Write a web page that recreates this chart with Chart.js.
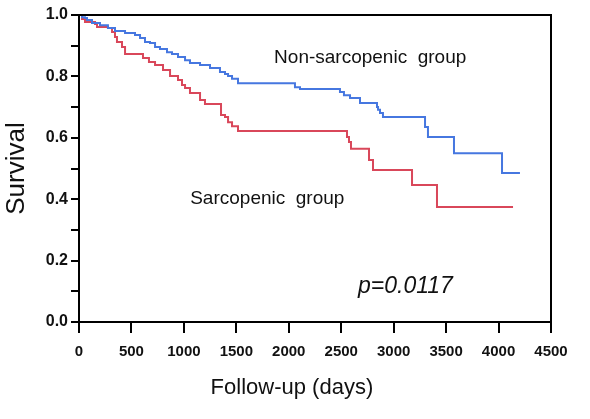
<!DOCTYPE html>
<html>
<head>
<meta charset="utf-8">
<script src="https://cdn.jsdelivr.net/npm/chart.js@4"></script>
<style>
  html, body { margin: 0; padding: 0; background: #fff; }
  #wrap { width: 590px; height: 419px; }
</style>
</head>
<body>
<div id="wrap"><canvas id="kmChart" width="590" height="419"></canvas></div>
<script>
// Kaplan-Meier steps (days, survival)
const nonSarcDays = [0, 29, 57, 76, 124, 200, 276, 343, 439, 534, 582, 629, 677, 725, 772, 839, 887, 944, 1011, 1058, 1154, 1249, 1344, 1392, 1421, 1459, 1516, 2059, 2107, 2488, 2526, 2584, 2679, 2841, 2851, 2870, 2898, 3299, 3327, 3575, 4033, 4204];
const nonSarcSurv = [1.0, 0.993, 0.990, 0.984, 0.974, 0.967, 0.958, 0.948, 0.941, 0.935, 0.925, 0.912, 0.909, 0.896, 0.889, 0.879, 0.873, 0.863, 0.853, 0.844, 0.837, 0.827, 0.814, 0.808, 0.801, 0.792, 0.778, 0.765, 0.759, 0.749, 0.739, 0.730, 0.713, 0.700, 0.691, 0.681, 0.668, 0.635, 0.603, 0.550, 0.485, 0.485];

const sarcDays = [0, 29, 57, 153, 172, 276, 315, 343, 362, 410, 439, 610, 667, 725, 801, 868, 944, 982, 1011, 1058, 1154, 1201, 1354, 1392, 1421, 1459, 1516, 2555, 2574, 2593, 2765, 2803, 3175, 3413, 4138];
const sarcSurv = [1.0, 0.987, 0.977, 0.971, 0.961, 0.958, 0.945, 0.928, 0.912, 0.896, 0.873, 0.860, 0.847, 0.837, 0.821, 0.801, 0.788, 0.772, 0.762, 0.746, 0.723, 0.710, 0.674, 0.668, 0.651, 0.638, 0.622, 0.603, 0.586, 0.564, 0.528, 0.495, 0.446, 0.375, 0.375];

const xTicks = [0, 500, 1000, 1500, 2000, 2500, 3000, 3500, 4000, 4500];
const yTicks = [0.0, 0.2, 0.4, 0.6, 0.8, 1.0];

const blue = '#4677e0';
const red = '#d9475a';
const fontFam = '"Liberation Sans", Arial, sans-serif';

function toPoints(xs, ys) {
    return xs.map((x, i) => ({ x: x, y: ys[i] }));
}

// labels placed in data coordinates
const notes = [
    { text: 'Non-sarcopenic  group', x: 1860, y: 0.862, font: '19px ' + fontFam },
    { text: 'Sarcopenic  group', x: 1060, y: 0.4, font: '19px ' + fontFam },
    { text: 'p=0.0117', x: 2660, y: 0.114, font: 'italic 23px ' + fontFam }
];

const frameAndNotes = {
    id: 'frameAndNotes',
    afterDraw(chart) {
        const c = chart.ctx;
        const a = chart.chartArea;
        c.save();
        c.strokeStyle = '#000';
        c.lineWidth = 2;
        c.beginPath();
        c.moveTo(a.left, a.top);
        c.lineTo(a.right, a.top);
        c.lineTo(a.right, a.bottom);
        c.stroke();
        c.fillStyle = '#111';
        c.textBaseline = 'middle';
        c.textAlign = 'left';
        notes.forEach(n => {
            c.font = n.font;
            c.fillText(n.text, chart.scales.x.getPixelForValue(n.x), chart.scales.y.getPixelForValue(n.y));
        });
        // x axis title sits a little left of the plot centre in the original
        c.font = '22px ' + fontFam;
        c.textAlign = 'center';
        c.fillText('Follow-up (days)', chart.scales.x.getPixelForValue(2030), a.bottom + 66);
        c.restore();
    }
};

const ctx = document.getElementById('kmChart').getContext('2d');
const kmChart = new Chart(ctx, {
    type: 'line',
    data: {
        datasets: [{
            label: 'Non-sarcopenic group',
            data: toPoints(nonSarcDays, nonSarcSurv),
            borderColor: blue,
            borderWidth: 2,
            stepped: true,
            pointRadius: 0,
            fill: false
        }, {
            label: 'Sarcopenic group',
            data: toPoints(sarcDays, sarcSurv),
            borderColor: red,
            borderWidth: 2,
            stepped: true,
            pointRadius: 0,
            fill: false
        }]
    },
    options: {
        responsive: false,
        animation: false,
        layout: { padding: { top: 15, right: 39, left: 0, bottom: 0 } },
        plugins: { legend: { display: false }, tooltip: { enabled: false } },
        scales: {
            x: {
                type: 'linear',
                min: 0,
                max: 4500,
                afterBuildTicks: axis => { axis.ticks = xTicks.map(v => ({ value: v })); },
                afterFit: axis => { axis.height = 97; },
                grid: { drawOnChartArea: false, tickLength: 11, color: '#000', lineWidth: 2 },
                border: { color: '#000', width: 2 },
                ticks: {
                    color: '#111',
                    padding: 10,
                    maxRotation: 0,
                    callback: v => String(v),
                    font: { family: fontFam, size: 15, weight: 'bold' }
                }
            },
            y: {
                min: 0,
                max: 1,
                afterBuildTicks: axis => {
                    const t = [];
                    for (let i = 0; i <= 10; i++) t.push({ value: i / 10 });
                    axis.ticks = t;
                },
                afterFit: axis => { axis.width = 79; },
                grid: { drawOnChartArea: false, tickLength: 8, color: '#000', lineWidth: 2 },
                border: { color: '#000', width: 2 },
                ticks: {
                    color: '#111',
                    padding: 3,
                    callback: v => yTicks.some(t => Math.abs(t - v) < 1e-6) ? v.toFixed(1) : '',
                    font: { family: fontFam, size: 16, weight: 'bold' }
                },
                title: {
                    display: true,
                    text: 'Survival',
                    color: '#111',
                    padding: { top: 1, bottom: 0 },
                    font: { family: fontFam, size: 26 }
                }
            }
        }
    },
    plugins: [frameAndNotes]
});
</script>
</body>
</html>
